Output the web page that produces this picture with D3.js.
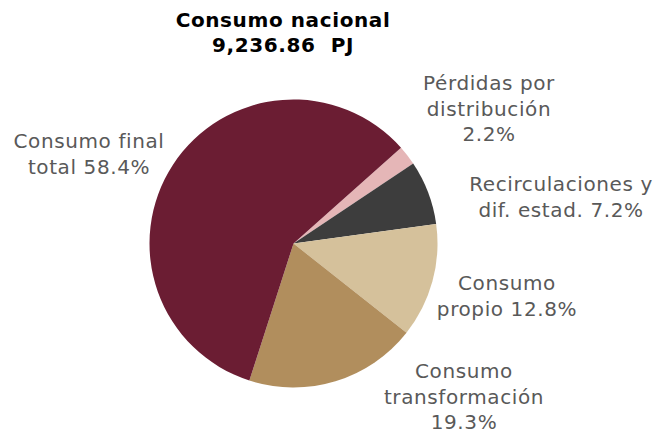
<!DOCTYPE html>
<html>
<head>
<meta charset="utf-8">
<script src="https://cdn.jsdelivr.net/npm/d3@7"></script>
<style>
  body { margin: 0; background: #ffffff; }
  svg { display: block; }
  text { font-family: "DejaVu Sans", "Open Sans", sans-serif; }
</style>
</head>
<body>
<div id="chart"></div>
<script>
// data
var categories = ["Pérdidas por distribución", "Recirculaciones y dif. estad.", "Consumo propio", "Consumo transformación", "Consumo final total"];
var shares = [2.2, 7.2, 12.8, 19.3, 58.4];
var colors = ["#E5B6B7", "#3D3D3D", "#D5C19B", "#B18E5D", "#6B1D33"];
var labelLines = [
    ["Pérdidas por", "distribución", "2.2%"],
    ["Recirculaciones y", "dif. estad. 7.2%"],
    ["Consumo", "propio 12.8%"],
    ["Consumo", "transformación", "19.3%"],
    ["Consumo final", "total 58.4%"]
];
var titleLines = ["Consumo nacional", "9,236.86  PJ"];

// layout
var width = 658, height = 435;
var cx = 293.5, cy = 243.5, radius = 144;
var startDeg = 48.3;
var lineGap = 25.5;
// where each label block sits (centre x, first baseline y)
var labelPos = [
    [489, 90],
    [561, 191],
    [507, 290],
    [464, 378],
    [89, 148]
];

var svg = d3.select("#chart").append("svg")
    .attr("width", width)
    .attr("height", height);

var pie = d3.pie()
    .sort(null)
    .value(function (d) { return d; })
    .startAngle(startDeg * Math.PI / 180)
    .endAngle(startDeg * Math.PI / 180 + 2 * Math.PI);

var arc = d3.arc()
    .innerRadius(0)
    .outerRadius(radius);

var g = svg.append("g")
    .attr("transform", "translate(" + cx + "," + cy + ")");

g.selectAll("path")
    .data(pie(shares))
    .enter()
    .append("path")
    .attr("d", arc)
    .attr("fill", function (d, i) { return colors[i]; });

// slice labels
var labels = svg.selectAll("text.label")
    .data(labelLines)
    .enter()
    .append("text")
    .attr("class", "label")
    .attr("text-anchor", "middle")
    .attr("font-size", 20)
    .attr("letter-spacing", 0.6)
    .attr("fill", "#595959");

labels.each(function (lines, i) {
    var t = d3.select(this);
    lines.forEach(function (line, j) {
        t.append("tspan")
            .attr("x", labelPos[i][0])
            .attr("y", labelPos[i][1] + j * lineGap)
            .text(line);
    });
});

// title
var title = svg.append("text")
    .attr("text-anchor", "middle")
    .attr("font-size", 20)
    .attr("letter-spacing", 0.6)
    .attr("font-weight", "bold")
    .attr("fill", "#000000");

titleLines.forEach(function (line, j) {
    title.append("tspan")
        .attr("x", 283)
        .attr("y", 27 + j * 25)
        .style("white-space", "pre")
        .text(line);
});
</script>
</body>
</html>
